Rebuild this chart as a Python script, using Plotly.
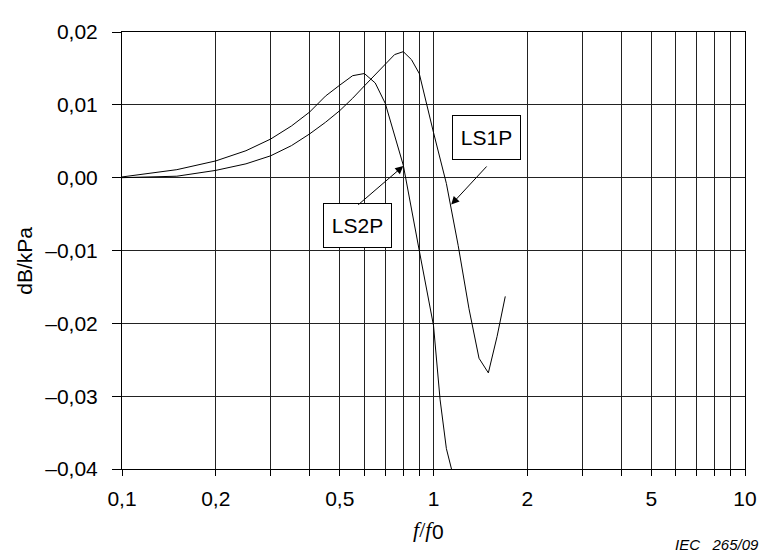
import plotly.graph_objects as go
import numpy as np

# ---- data ----
ls1p_x = [0.1, 0.15, 0.2, 0.25, 0.3, 0.35, 0.4, 0.45, 0.5, 0.55, 0.6, 0.65, 0.7, 0.75, 0.8,
          0.85, 0.9, 0.95, 1.0, 1.1, 1.2, 1.3, 1.4, 1.5, 1.6, 1.7]
ls1p_y = [0.0000, 0.0002, 0.0010, 0.0019, 0.0030, 0.0044, 0.0060, 0.0076, 0.0092, 0.0109,
          0.0126, 0.0141, 0.0155, 0.0169, 0.0173, 0.0162, 0.0143, 0.0100, 0.0062, -0.0008,
          -0.0093, -0.0180, -0.0248, -0.0268, -0.0218, -0.0163]

ls2p_x = [0.1, 0.15, 0.2, 0.25, 0.3, 0.35, 0.4, 0.45, 0.5, 0.55, 0.6, 0.65, 0.7, 0.8, 0.9,
          1.0, 1.05, 1.1, 1.15]
ls2p_y = [0.0001, 0.0011, 0.0023, 0.0037, 0.0053, 0.0071, 0.0090, 0.0112, 0.0127, 0.0140,
          0.0143, 0.0130, 0.0102, 0.0017, -0.0100, -0.0203, -0.0305, -0.0372, -0.0405]

x_tickvals = [0.1, 0.2, 0.3, 0.4, 0.5, 0.6, 0.7, 0.8, 0.9, 1, 2, 3, 4, 5, 6, 7, 8, 9, 10]
x_ticktext = ["0,1", "0,2", "", "", "0,5", "", "", "", "", "1", "2", "", "", "5", "", "", "", "", "10"]
y_tickvals = [0.02, 0.01, 0.0, -0.01, -0.02, -0.03, -0.04]
y_ticktext = ["0,02", "0,01", "0,00", "\u20130,01", "\u20130,02", "\u20130,03", "\u20130,04"]

FONT = "Liberation Sans, Arial, sans-serif"
SERIF = "Liberation Serif, Times New Roman, serif"
LC = "#000000"

fig = go.Figure()
fig.add_trace(go.Scatter(x=ls1p_x, y=ls1p_y, mode="lines", name="LS1P",
                         line=dict(color=LC, width=1), showlegend=False))
fig.add_trace(go.Scatter(x=ls2p_x, y=ls2p_y, mode="lines", name="LS2P",
                         line=dict(color=LC, width=1), showlegend=False))

# page body has an 8px margin -> figure is 8px smaller, margins shifted by 8px
fig.update_layout(
    width=762, height=550,
    margin=dict(l=114, r=25, t=14, b=89),
    paper_bgcolor="white", plot_bgcolor="white",
    font=dict(family=FONT, size=21, color="#000"),
    showlegend=False,
)
fig.update_xaxes(
    type="log", range=[-1, 1],
    tickmode="array", tickvals=x_tickvals, ticktext=x_ticktext,
    showgrid=True, gridcolor="#222", gridwidth=1,
    showline=True, linecolor="#000", linewidth=1, mirror=True,
    ticks="outside", ticklen=6, tickcolor="#000", tickwidth=1,
    ticklabelstandoff=5, zeroline=False,
)
fig.update_yaxes(
    range=[-0.04, 0.02],
    tickmode="array", tickvals=y_tickvals, ticktext=y_ticktext,
    showgrid=True, gridcolor="#222", gridwidth=1,
    showline=True, linecolor="#000", linewidth=1, mirror=True,
    ticks="outside", ticklen=9, tickcolor="#000", tickwidth=1,
    ticklabelstandoff=10, zeroline=False,
)

# axis titles
fig.add_annotation(text="dB/kPa", xref="paper", yref="paper",
                   x=(25 - 122) / 623, y=(469 - 256) / 447, textangle=-90,
                   showarrow=False, xanchor="center", yanchor="middle",
                   font=dict(size=21, family=FONT))
fig.add_annotation(text="<i>f</i>/<i>f</i>", xref="paper", yref="paper",
                   x=(436 - 122) / 623, y=(469 - 531) / 447,
                   showarrow=False, xanchor="right", yanchor="middle",
                   font=dict(size=22, family=SERIF))
fig.add_annotation(text="0", xref="paper", yref="paper",
                   x=(430 - 122) / 623, y=(469 - 533) / 447,
                   showarrow=False, xanchor="left", yanchor="middle",
                   font=dict(size=21, family=FONT))
fig.add_annotation(text="<i>IEC   265/09</i>", xref="paper", yref="paper",
                   x=(761 - 122) / 623, y=(469 - 546) / 447,
                   showarrow=False, xanchor="right", yanchor="middle",
                   font=dict(size=15, family=FONT))

# label boxes
fig.add_annotation(text="LS1P", x=np.log10(1.485), y=0.0055, xref="x", yref="y",
                   showarrow=False, bordercolor="#000", borderwidth=1, borderpad=0,
                   width=67, height=43, bgcolor="white", font=dict(size=21, family=FONT))
fig.add_annotation(text="LS2P", x=np.log10(0.5705), y=-0.0065, xref="x", yref="y",
                   showarrow=False, bordercolor="#000", borderwidth=1, borderpad=0,
                   width=67, height=43, bgcolor="white", font=dict(size=21, family=FONT))

# arrows
fig.add_annotation(text="", x=np.log10(1.14), y=-0.0037, xref="x", yref="y",
                   ax=0.175, ay=0.00174, axref="x", ayref="y",
                   showarrow=True, arrowhead=2, arrowsize=1.6, arrowwidth=1, arrowcolor="#000")
fig.add_annotation(text="", x=np.log10(0.8), y=0.0016, xref="x", yref="y",
                   ax=-0.2465, ay=-0.0039, axref="x", ayref="y",
                   showarrow=True, arrowhead=2, arrowsize=1.6, arrowwidth=1, arrowcolor="#000")

fig.write_html("out.html")
